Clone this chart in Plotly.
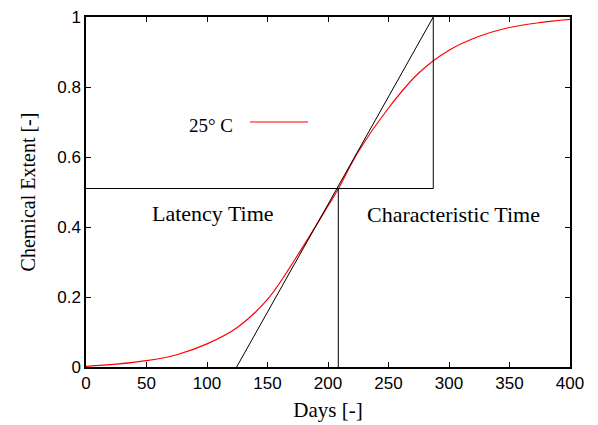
import plotly.graph_objects as go

# Data
days = [0, 25, 50, 75, 100, 125, 150, 175, 200, 209, 225, 250, 275, 300, 325, 350, 375, 400]
extent_25C = [0.002, 0.008, 0.018, 0.035, 0.066, 0.113, 0.193, 0.32, 0.46, 0.512,
              0.615, 0.74, 0.84, 0.905, 0.945, 0.97, 0.984, 0.993]

tangent_days = [124.5, 287]
tangent_vals = [0.0, 1.0]

latency_day = 208.5
char_end_day = 287
inflection_val = 0.51

x_ticks = [0, 50, 100, 150, 200, 250, 300, 350, 400]
y_ticks = [0, 0.2, 0.4, 0.6, 0.8, 1.0]
y_ticklabels = ["0", "0.2", "0.4", "0.6", "0.8", "1"]

serif = "Liberation Serif, DejaVu Serif, serif"
sans = "Liberation Sans, Arial, sans-serif"

fig = go.Figure()

fig.add_trace(go.Scatter(x=days, y=extent_25C, mode="lines", line=dict(color="#ff0000", width=1.2, shape="spline"),
                         name="25°C", showlegend=False, hoverinfo="skip"))
fig.add_trace(go.Scatter(x=tangent_days, y=tangent_vals, mode="lines", line=dict(color="black", width=1),
                         showlegend=False, hoverinfo="skip"))
fig.add_trace(go.Scatter(x=[0, char_end_day], y=[inflection_val, inflection_val], mode="lines",
                         line=dict(color="black", width=1), showlegend=False, hoverinfo="skip"))
fig.add_trace(go.Scatter(x=[char_end_day, char_end_day], y=[inflection_val, 1.0], mode="lines",
                         line=dict(color="black", width=1), showlegend=False, hoverinfo="skip"))
fig.add_trace(go.Scatter(x=[latency_day, latency_day], y=[0, inflection_val], mode="lines",
                         line=dict(color="black", width=1), showlegend=False, hoverinfo="skip"))

# legend sample (gnuplot style: label left of line)
fig.add_shape(type="line", xref="x", yref="y", x0=135.5, x1=183.5, y0=0.70, y1=0.70,
              line=dict(color="#ff0000", width=1.2))
fig.add_annotation(x=123.5, y=0.69, xref="x", yref="y", text="25° C", showarrow=False,
                   xanchor="right", yanchor="middle", font=dict(family=serif, size=19, color="black"))

fig.add_annotation(x=105, y=0.44, xref="x", yref="y", text="Latency Time", showarrow=False,
                   xanchor="center", yanchor="middle", font=dict(family=serif, size=22, color="black"))
fig.add_annotation(x=303.5, y=0.436, xref="x", yref="y", text="Characteristic Time", showarrow=False,
                   xanchor="center", yanchor="middle", font=dict(family=serif, size=22, color="black"))

axis_common = dict(showgrid=False, zeroline=False, showline=True, linecolor="black", linewidth=1.5,
                   mirror="ticks", ticks="inside", ticklen=5, tickcolor="black", tickwidth=1,
                   automargin=False,
                   tickfont=dict(family=sans, size=17, color="black"))

fig.update_xaxes(range=[0, 400], tickvals=x_ticks,
                 title=dict(text="Days [-]", font=dict(family=serif, size=21, color="black"), standoff=10),
                 **axis_common)
fig.update_yaxes(range=[0, 1], tickvals=y_ticks, ticktext=y_ticklabels,
                 title=dict(text="Chemical Extent [-]", font=dict(family=serif, size=20, color="black"), standoff=16),
                 **axis_common)

fig.update_layout(width=598, height=425, margin=dict(l=86, r=28, t=17, b=58),
                  plot_bgcolor="white", paper_bgcolor="white")

fig.write_html("out.html")
